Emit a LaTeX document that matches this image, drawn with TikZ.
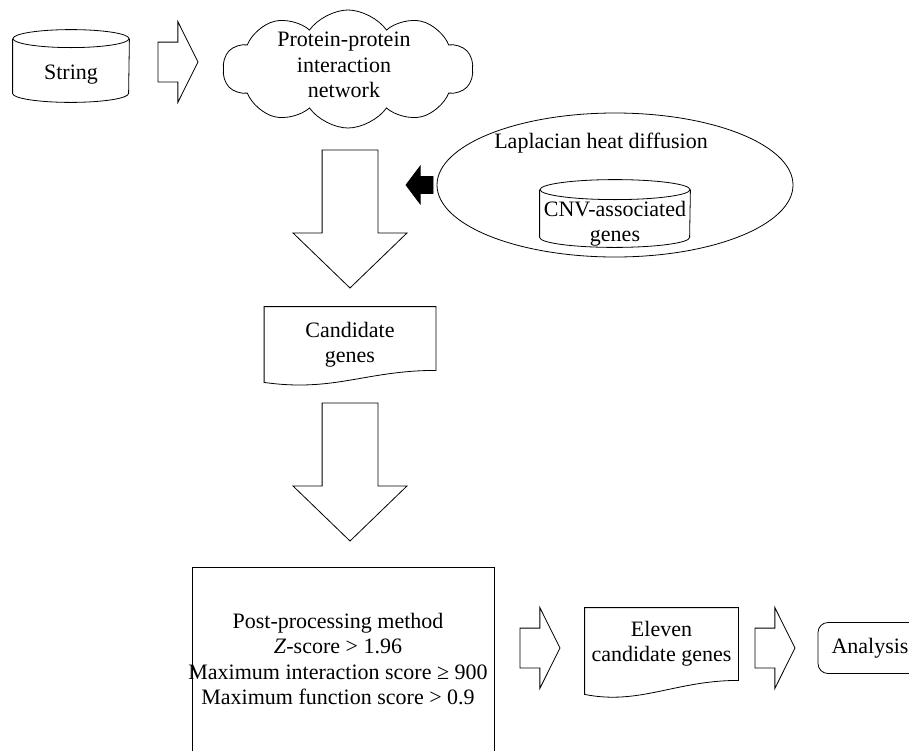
\documentclass[tikz,border=0pt]{standalone}
\usepackage{fontspec}
\setmainfont{Liberation Serif}
\usetikzlibrary{positioning,shapes.geometric,shapes.symbols,shapes.arrows}

% cylinder outline round a node that holds its body
\newcommand{\dbshape}[3]{%
  \draw ([yshift=#3]#1.north) ellipse [x radius=#2,y radius=#3];
  \draw ([yshift=#3]#1.north west) -- ([yshift=#3]#1.south west)
        arc[start angle=180,end angle=360,x radius=#2,y radius=#3]
        -- ([yshift=#3]#1.north east);}

\begin{document}
\begin{tikzpicture}[x=0.5pt,y=-0.5pt,font=\fontsize{11}{12.6}\selectfont,
            db/.style={rectangle,align=center,inner sep=0pt},
            docbox/.style={rectangle,align=center,inner sep=0pt},
            blk/.style={single arrow,draw,outer sep=0pt,anchor=tail},
            rarr/.style={blk,inner xsep=0pt,inner ysep=9.75pt,
                         minimum height=20pt,minimum width=40pt,
                         single arrow head extend=10.25pt,
                         single arrow tip angle=127},
            darr/.style={blk,shape border rotate=270,inner sep=13.75pt,
                         minimum height=69pt,minimum width=56.5pt,
                         single arrow head extend=14.5pt,
                         single arrow tip angle=92}]
            \useasboundingbox (0,0) rectangle (909,750);
            \clip (0,0) rectangle (909,750);
            % top row
            \node[db,minimum width=58pt,minimum height=27pt]
                       (str)  at (71,75)   {String};
            \dbshape{str}{29pt}{4.5pt}
            \node[cloud,draw,cloud puffs=10,cloud puff arc=110,aspect=2.1,
                  minimum width=125pt,minimum height=59pt,inner sep=0pt]
                       (ppi)  at (348,69)  {};
            \node[align=center] (ppilbl) at (344,65)
                       {Protein-protein\\interaction\\network};
            \node[rarr] (s2p) at (158,62) {};
            % heat diffusion
            \node[ellipse,draw,minimum width=178pt,minimum height=72pt,
                  inner sep=0pt] (lhd) at (615,185) {};
            \node (lhdlbl) at (601,143) {Laplacian heat diffusion};
            \node[db,minimum width=75pt,minimum height=23.5pt]
                       (cnv)  at (615,223.5) {CNV-associated\\genes};
            \dbshape{cnv}{37.5pt}{5pt}
            \node[blk,fill=black,shape border rotate=180,inner xsep=0pt,
                  inner ysep=4pt,minimum height=13.5pt,minimum width=18.5pt,
                  single arrow head extend=5.25pt,
                  single arrow tip angle=106] (l2c) at (433,185) {};
            % candidates
            \node[darr] (p2c) at (350,150) {};
            \node[docbox,minimum width=85.5pt,minimum height=37.5pt]
                       (cand) at (350,344.5) {Candidate\\genes};
            \draw (cand.north west) -- (cand.north east)
                  -- ([yshift=6pt]cand.south east)
                  .. controls +(-70,0) and +(70,10) .. (cand.south west)
                  -- cycle;
            \node[darr] (c2m) at (350,403) {};
            % bottom row
            \node[rectangle,draw,minimum width=151pt,minimum height=92.5pt]
                       (post) at (343,659.5) {};
            \node[align=center] (postlbl) at (338,659)
                       {Post-processing method\\\textit{Z}-score > 1.96\\
                        Maximum interaction score ≥ 900\\
                        Maximum function score > 0.9};
            \node[rarr] (m2e) at (520,648) {};
            \node[docbox,minimum width=76.5pt,minimum height=36pt]
                       (elev) at (661.5,644) {Eleven\\candidate genes};
            \draw (elev.north west) -- (elev.north east) -- (elev.south east)
                  .. controls +(-63,0) and +(55,11) .. ([yshift=-7pt]elev.south west)
                  -- cycle;
            \node[rarr] (e2a) at (755,648) {};
            \node[rectangle,draw,rounded corners=5pt,minimum width=52pt,
                  minimum height=25.5pt,inner sep=0pt]
                       (ana)  at (870,648) {Analysis};
        \end{tikzpicture}
\end{document}
